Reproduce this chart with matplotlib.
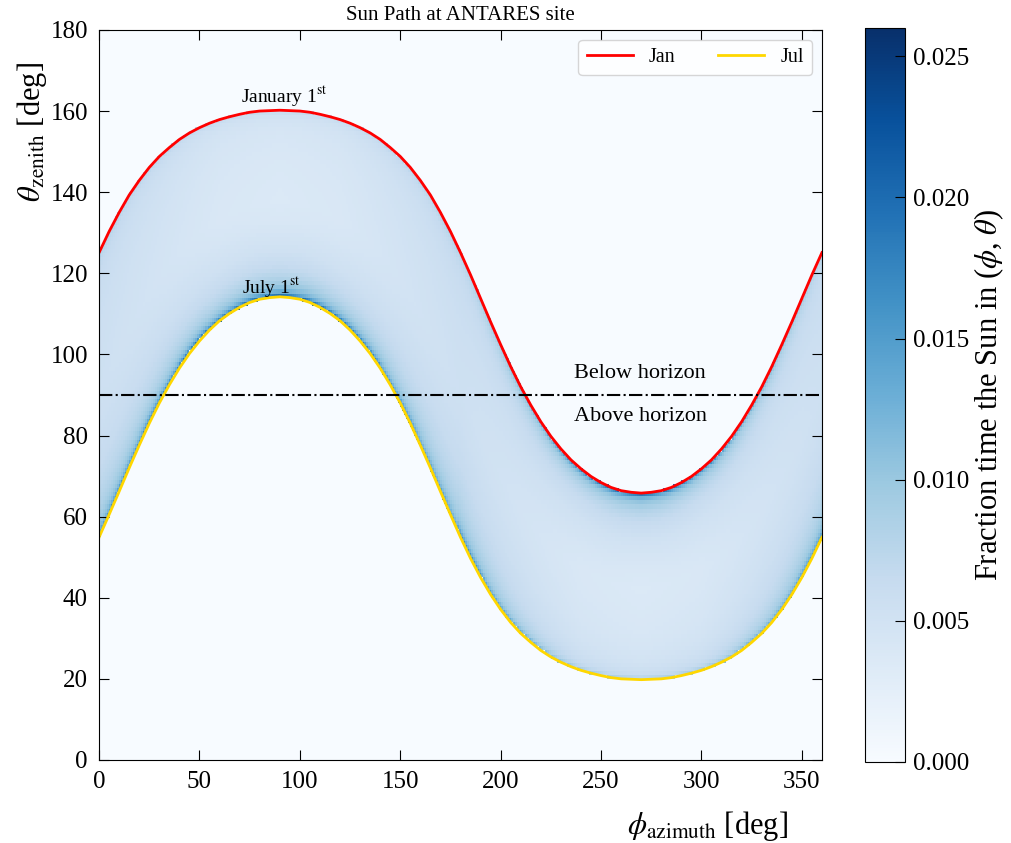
import numpy as np
import matplotlib
matplotlib.use('Agg')
import matplotlib.pyplot as plt

plt.rcParams['font.family'] = ['Liberation Serif', 'DejaVu Serif']
plt.rcParams['mathtext.fontset'] = 'stix'

# Sun path for the two extreme days (deg)
phi_path = [0, 5, 10, 15, 20, 25, 30, 35, 40, 45, 50, 55, 60, 65, 70, 75, 80, 85, 90,
            95, 100, 105, 110, 115, 120, 125, 130, 135, 140, 145, 150, 155, 160, 165, 170, 175, 180,
            185, 190, 195, 200, 205, 210, 215, 220, 225, 230, 235, 240, 245, 250, 255, 260, 265, 270,
            275, 280, 285, 290, 295, 300, 305, 310, 315, 320, 325, 330, 335, 340, 345, 350, 355, 360]
theta_jan = [125.1, 130.3, 135.0, 139.3, 142.9, 146.1, 148.8, 151.0, 153.0, 154.6, 155.9, 157.0,
             157.9, 158.6, 159.2, 159.7, 160.0, 160.1, 160.2,
             160.1, 160.0, 159.7, 159.2, 158.6, 157.9, 157.0, 155.9, 154.6, 153.0, 151.0, 148.8,
             146.1, 142.9, 139.3, 135.0, 130.3, 125.1,
             119.6, 113.8, 108.0, 102.4, 97.0, 92.0, 87.5, 83.4, 79.8, 76.7, 74.0, 71.8,
             69.9, 68.4, 67.2, 66.4, 66.0, 65.8,
             66.0, 66.4, 67.2, 68.4, 69.9, 71.8, 74.0, 76.7, 79.8, 83.4, 87.5, 92.0,
             97.0, 102.4, 108.0, 113.8, 119.6, 125.1]
theta_jul = [54.9, 60.5, 66.2, 72.0, 77.6, 83.0, 88.0, 92.5, 96.6, 100.2, 103.3, 106.0,
             108.3, 110.1, 111.6, 112.8, 113.6, 114.0, 114.2,
             114.0, 113.6, 112.8, 111.6, 110.1, 108.3, 106.0, 103.3, 100.2, 96.6, 92.5, 88.0,
             83.0, 77.6, 72.0, 66.2, 60.5, 54.9,
             49.7, 45.0, 40.8, 37.1, 33.9, 31.2, 29.0, 27.0, 25.4, 24.1, 23.0, 22.1,
             21.4, 20.8, 20.3, 20.0, 19.9, 19.8,
             19.9, 20.0, 20.3, 20.8, 21.4, 22.1, 23.0, 24.1, 25.4, 27.0, 29.0, 31.2,
             33.9, 37.1, 40.8, 45.0, 49.7, 54.9]

# fraction of time per (phi, theta) bin, estimated from the colours
phi_knots = [0, 30, 60, 90, 120, 150, 180, 210, 240, 270, 300, 330, 360]
frac_inner = [0.0055, 0.0048, 0.0040, 0.0037, 0.0040, 0.0048, 0.0055,
              0.0048, 0.0040, 0.0037, 0.0040, 0.0048, 0.0055]
frac_jul_edge = [0.018, 0.019, 0.021, 0.023, 0.021, 0.019, 0.018,
                 0.014, 0.010, 0.009, 0.010, 0.014, 0.018]
frac_jan_edge = [0.009, 0.008, 0.007, 0.007, 0.007, 0.008, 0.009,
                 0.014, 0.019, 0.022, 0.019, 0.014, 0.009]
# fall-off away from a path edge (fraction of band width)
edge_t = [0.0, 0.01, 0.02, 0.04, 0.07, 0.10, 0.15, 0.25, 0.40, 0.50]
edge_shape = [1.0, 0.75, 0.55, 0.40, 0.30, 0.23, 0.16, 0.08, 0.02, 0.0]

# 1 deg x 1 deg histogram
phi_edges = np.arange(0, 361, 1)
theta_edges = np.arange(0, 181, 1)
pc = 0.5 * (phi_edges[1:] + phi_edges[:-1])
tc = 0.5 * (theta_edges[1:] + theta_edges[:-1])
P, T = np.meshgrid(pc, tc)
lo = np.interp(P, phi_path, theta_jul)
hi = np.interp(P, phi_path, theta_jan)
t = (T - lo) / (hi - lo)
inner = np.interp(P, phi_knots, frac_inner)
e_jul = np.interp(P, phi_knots, frac_jul_edge)
e_jan = np.interp(P, phi_knots, frac_jan_edge)
val = (inner + (e_jul - inner) * np.interp(t, edge_t, edge_shape)
       + (e_jan - inner) * np.interp(1 - t, edge_t, edge_shape))
hist = np.where((t >= 0) & (t <= 1), val, 0.0)

fig = plt.figure(figsize=(10.11, 8.43), dpi=100)
ax = fig.add_axes([0.098, 0.0985, 0.715, 0.866])
cax = fig.add_axes([0.8556, 0.0961, 0.0396, 0.8707])

mesh = ax.pcolormesh(phi_edges, theta_edges, hist, cmap='Blues', vmin=0, vmax=0.026, shading='flat')
ax.plot(phi_path, theta_jan, color='red', lw=2, label='Jan')
ax.plot(phi_path, theta_jul, color='gold', lw=2, label='Jul')
ax.axhline(90, color='black', ls='-.', lw=1.5)

ax.text(269.5, 95.2, 'Below horizon', fontsize=16, ha='center', va='center')
ax.text(269.5, 84.6, 'Above horizon', fontsize=16, ha='center', va='center')
ax.text(92.5, 163.6, r'January 1$^{\rm st}$', fontsize=14, ha='center', va='center')
ax.text(86, 116.5, r'July 1$^{\rm st}$', fontsize=14, ha='center', va='center')

ax.set_xlim(0, 360)
ax.set_ylim(0, 180)
ax.set_xticks([0, 50, 100, 150, 200, 250, 300, 350])
ax.set_yticks(range(0, 181, 20))
ax.tick_params(direction='in', top=True, right=True, length=7, labelsize=18, pad=8)
ax.set_xlabel(r'$\phi_{\rm azimuth}$ [deg]', fontsize=22, ha='center', va='center')
ax.xaxis.set_label_coords(0.842, -0.09)
ax.set_ylabel(r'$\theta_{\rm zenith}$ [deg]', fontsize=22, ha='center', va='center')
ax.yaxis.set_label_coords(-0.0927, 0.86)
ax.set_title('Sun Path at ANTARES site', fontsize=15, pad=7)
ax.legend(loc='upper right', ncol=2, fontsize=14.5, handlelength=2.3, columnspacing=2.1)

cb = fig.colorbar(mesh, cax=cax)
cb.set_ticks([0, 0.005, 0.01, 0.015, 0.02, 0.025])
cb.ax.tick_params(direction='in', length=7, labelsize=18, pad=6)
cb.set_label(r'Fraction time the Sun in ($\phi$, $\theta$)', fontsize=22, labelpad=2)

fig.savefig('out.png', dpi=100)
